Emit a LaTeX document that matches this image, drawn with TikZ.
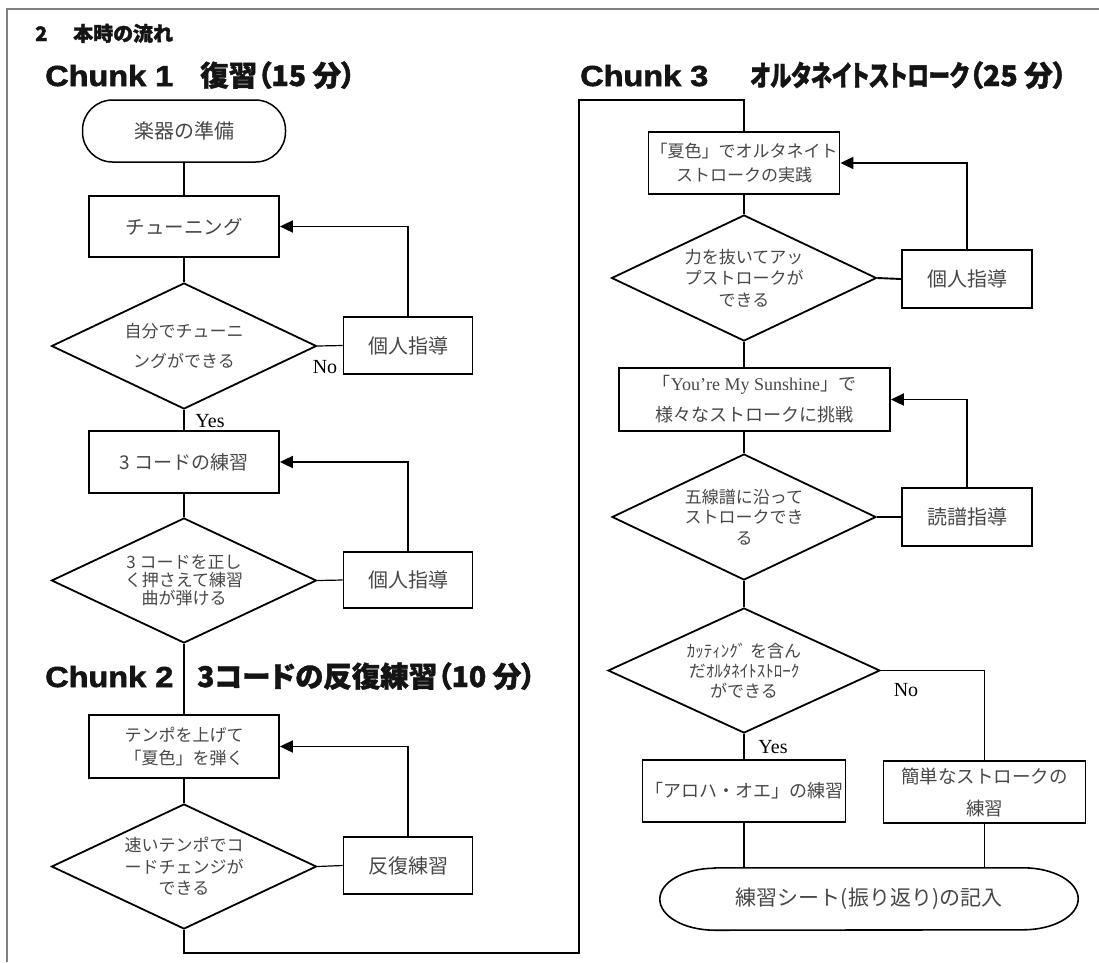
\documentclass[tikz,border=0pt]{standalone}
\usepackage{fontspec}
\usepackage{graphicx}
\setmainfont{Liberation Serif}
\newfontfamily\jp{Noto Sans CJK JP}
\newfontfamily\jpt{Noto Sans CJK JP}[FakeBold=1.5,RawFeature=+palt]
\newfontfamily\hv{Liberation Sans}[FakeBold=1.8]
\newcommand\chunklabel[1]{{\hv\bfseries\fontsize{29}{29}\selectfont\scalebox{1.12}[1]{#1}}}
\usetikzlibrary{shapes.geometric,arrows.meta}
\begin{document}
\begin{tikzpicture}[x=1pt,y=-1pt,
  txt/.style={inner sep=0pt, align=center, text=black!72},
  proc/.style={txt, draw=black, line width=1.8pt, rectangle},
  dec/.style={txt, draw=black, line width=1.8pt, diamond, aspect=2.1},
  link/.style={line width=1.2pt, draw=black},
  heavylink/.style={line width=1.9pt, draw=black},
  back/.style={line width=1.9pt, draw=black, -{Triangle[length=13pt,width=12pt]}},
  yn/.style={inner sep=0pt, font=\fontsize{20}{20}\selectfont, text=black},
  ttl/.style={inner sep=0pt, anchor=base west, text=black!92},
  frame/.style={line width=1.6pt, draw=black!50}
]
\useasboundingbox (0,0) rectangle (1099,962);
\draw[frame] (7,962) -- (7,9) -- (1099,9);

% titles
\node[ttl] (t0) at (35,41) {\jpt\bfseries\fontsize{20}{20}\selectfont\makebox[38pt][l]{2}本時の流れ};
\node[ttl] (t1) at (45,86) {\makebox[155pt][l]{\chunklabel{Chunk 1}}{\jpt\bfseries\fontsize{28.5}{28.5}\selectfont 復習（15 分）}};
\node[ttl] (t2) at (45,687) {\makebox[152pt][l]{\chunklabel{Chunk 2}}{\jpt\bfseries\fontsize{28.5}{28.5}\selectfont 3コードの反復練習（10 分）}};
\node[ttl] (t3) at (580,86) {\makebox[170pt][l]{\chunklabel{Chunk 3}}{\jpt\bfseries\fontsize{28.5}{28.5}\selectfont \scalebox{0.75}[1]{オルタネイトストローク}（25 分）}};

% chunk 1
\node[txt, draw=black, line width=1.5pt, rounded corners=30pt, minimum width=203pt, minimum height=62pt, font=\jp\fontsize{20}{24}\selectfont] (n1) at (184,131) {楽器の準備};
\node[proc, minimum width=190pt, minimum height=61pt, font=\jp\fontsize{19.5}{24}\selectfont] (n2) at (184,226.5) {チューニング};
\node[dec, minimum width=265pt, minimum height=126pt, font=\jp\fontsize{17}{30}\selectfont] (n3) at (184,346) {自分でチューニ\\ングができる};
\node[proc, minimum width=129pt, minimum height=57pt, font=\jp\fontsize{20}{24}\selectfont] (n4) at (408,345.5) {個人指導};
\node[proc, minimum width=190pt, minimum height=62pt, font=\jp\fontsize{19}{24}\selectfont] (n5) at (184,462) {3 コードの練習};
\node[dec, minimum width=265pt, minimum height=125pt, font=\jp\fontsize{17}{18}\selectfont] (n6) at (184,580.5) {3 コードを正し\\く押さえて練習\\曲が弾ける};
\node[proc, minimum width=129pt, minimum height=56pt, font=\jp\fontsize{20}{24}\selectfont] (n7) at (408,580) {個人指導};
\node[proc, minimum width=190pt, minimum height=63pt, font=\jp\fontsize{17}{23}\selectfont] (n8) at (184,746.5) {テンポを上げて\\「夏色」を弾く};
\node[dec, minimum width=265pt, minimum height=125pt, font=\jp\fontsize{17}{21.5}\selectfont] (n9) at (184,866.5) {速いテンポでコ\\ードチェンジが\\できる};
\node[proc, minimum width=129pt, minimum height=57pt, font=\jp\fontsize{20}{24}\selectfont] (n10) at (408,865.5) {反復練習};

\draw[link] (n1.south) -- (n2.north);
\draw[link] (n2.south) -- (n3.north);
\draw[link] (n3.east) -- (n4.west);
\draw[back] (n4.north) |- (n2.east);
\draw[link] (n3.south) -- (n5.north);
\draw[link] (n5.south) -- (n6.north);
\draw[link] (n6.east) -- (n7.west);
\draw[back] (n7.north) |- (n5.east);
\draw[link] (n6.south) -- (n8.north);
\draw[link] (n8.south) -- (n9.north);
\draw[link] (n9.east) -- (n10.west);
\draw[back] (n10.north) |- (n8.east);
\node[yn] (no1) at (325,367) {No};
\node[yn] (yes1) at (210,421) {Yes};

% chunk 3
\node[proc, minimum width=191pt, minimum height=62pt, font=\jp\fontsize{17}{24}\selectfont] (m1) at (744,163) {「夏色」でオルタネイト\\ストロークの実践};
\node[dec, minimum width=265pt, minimum height=126pt, font=\jp\fontsize{17}{21.5}\selectfont] (m2) at (744,278) {力を抜いてアッ\\プストロークが\\できる};
\node[proc, minimum width=130pt, minimum height=58pt, font=\jp\fontsize{20}{24}\selectfont] (m3) at (967,279) {個人指導};
\node[proc, minimum width=271pt, minimum height=63pt, font=\jp\fontsize{18}{31}\selectfont] (m4) at (754.5,399.5) {「{\rmfamily You’re My Sunshine}」で\\様々なストロークに挑戦};
\node[dec, minimum width=264pt, minimum height=126pt, font=\jp\fontsize{17}{20.5}\selectfont] (m5) at (744,517) {五線譜に沿って\\ストロークでき\\る};
\node[proc, minimum width=130pt, minimum height=58pt, font=\jp\fontsize{20}{24}\selectfont] (m6) at (967,517) {読譜指導};
\node[dec, minimum width=272pt, minimum height=125pt, font=\jp\fontsize{17}{20}\selectfont] (m7) at (744,670.5) {ｶｯﾃｨﾝｸﾞ を含ん\\だｵﾙﾀﾈｲﾄｽﾄﾛｰｸ\\ができる};
\node[proc, minimum width=203pt, minimum height=62pt, font=\jp\fontsize{18}{24}\selectfont] (m8) at (744,791) {「アロハ・オエ」の練習};
\node[proc, minimum width=202pt, minimum height=62pt, font=\jp\fontsize{18.5}{32}\selectfont] (m9) at (984.5,792) {簡単なストロークの\\練習};
\node[txt, minimum width=418pt, minimum height=62pt, font=\jp\fontsize{21}{24}\selectfont] (m10) at (869,899) {練習シート(振り返り)の記入};
\draw[line width=1.6pt] ([xshift=55pt]m10.north west) -- ([xshift=-55pt]m10.north east)
  arc[start angle=90, end angle=-90, x radius=55pt, y radius=31pt]
  -- ([xshift=55pt]m10.south west)
  arc[start angle=270, end angle=90, x radius=55pt, y radius=31pt] -- cycle;

\coordinate (c1) at (579,953);
\coordinate (c2) at (579,100);
\draw[link] (n9.south) |- (c1) -- (c2) -| (m1.north);
\draw[link] (m1.south) -- (m2.north);
\draw[heavylink] (m2.east) -- (m3.west);
\draw[back] (m3.north) |- (m1.east);
\draw[link] (m2.south) -- (m2.south |- m4.north);
\draw[heavylink] (m5.north |- m4.south) -- (m5.north);
\draw[link] (m5.east) -- (m6.west);
\draw[back] (m6.north) |- (m4.east);
\draw[heavylink] (m5.south) -- (m7.north);
\draw[heavylink] (m7.south) -- (m8.north);
\draw[heavylink] (m7.east) -| (m9.north);
\draw[link] (m8.south) -- (m8.south |- m10.north);
\draw[heavylink] (m9.south) -- (m9.south |- m10.north);
\node[yn] (yes2) at (773,747) {Yes};
\node[yn] (no2) at (906,690) {No};
\end{tikzpicture}
\end{document}
